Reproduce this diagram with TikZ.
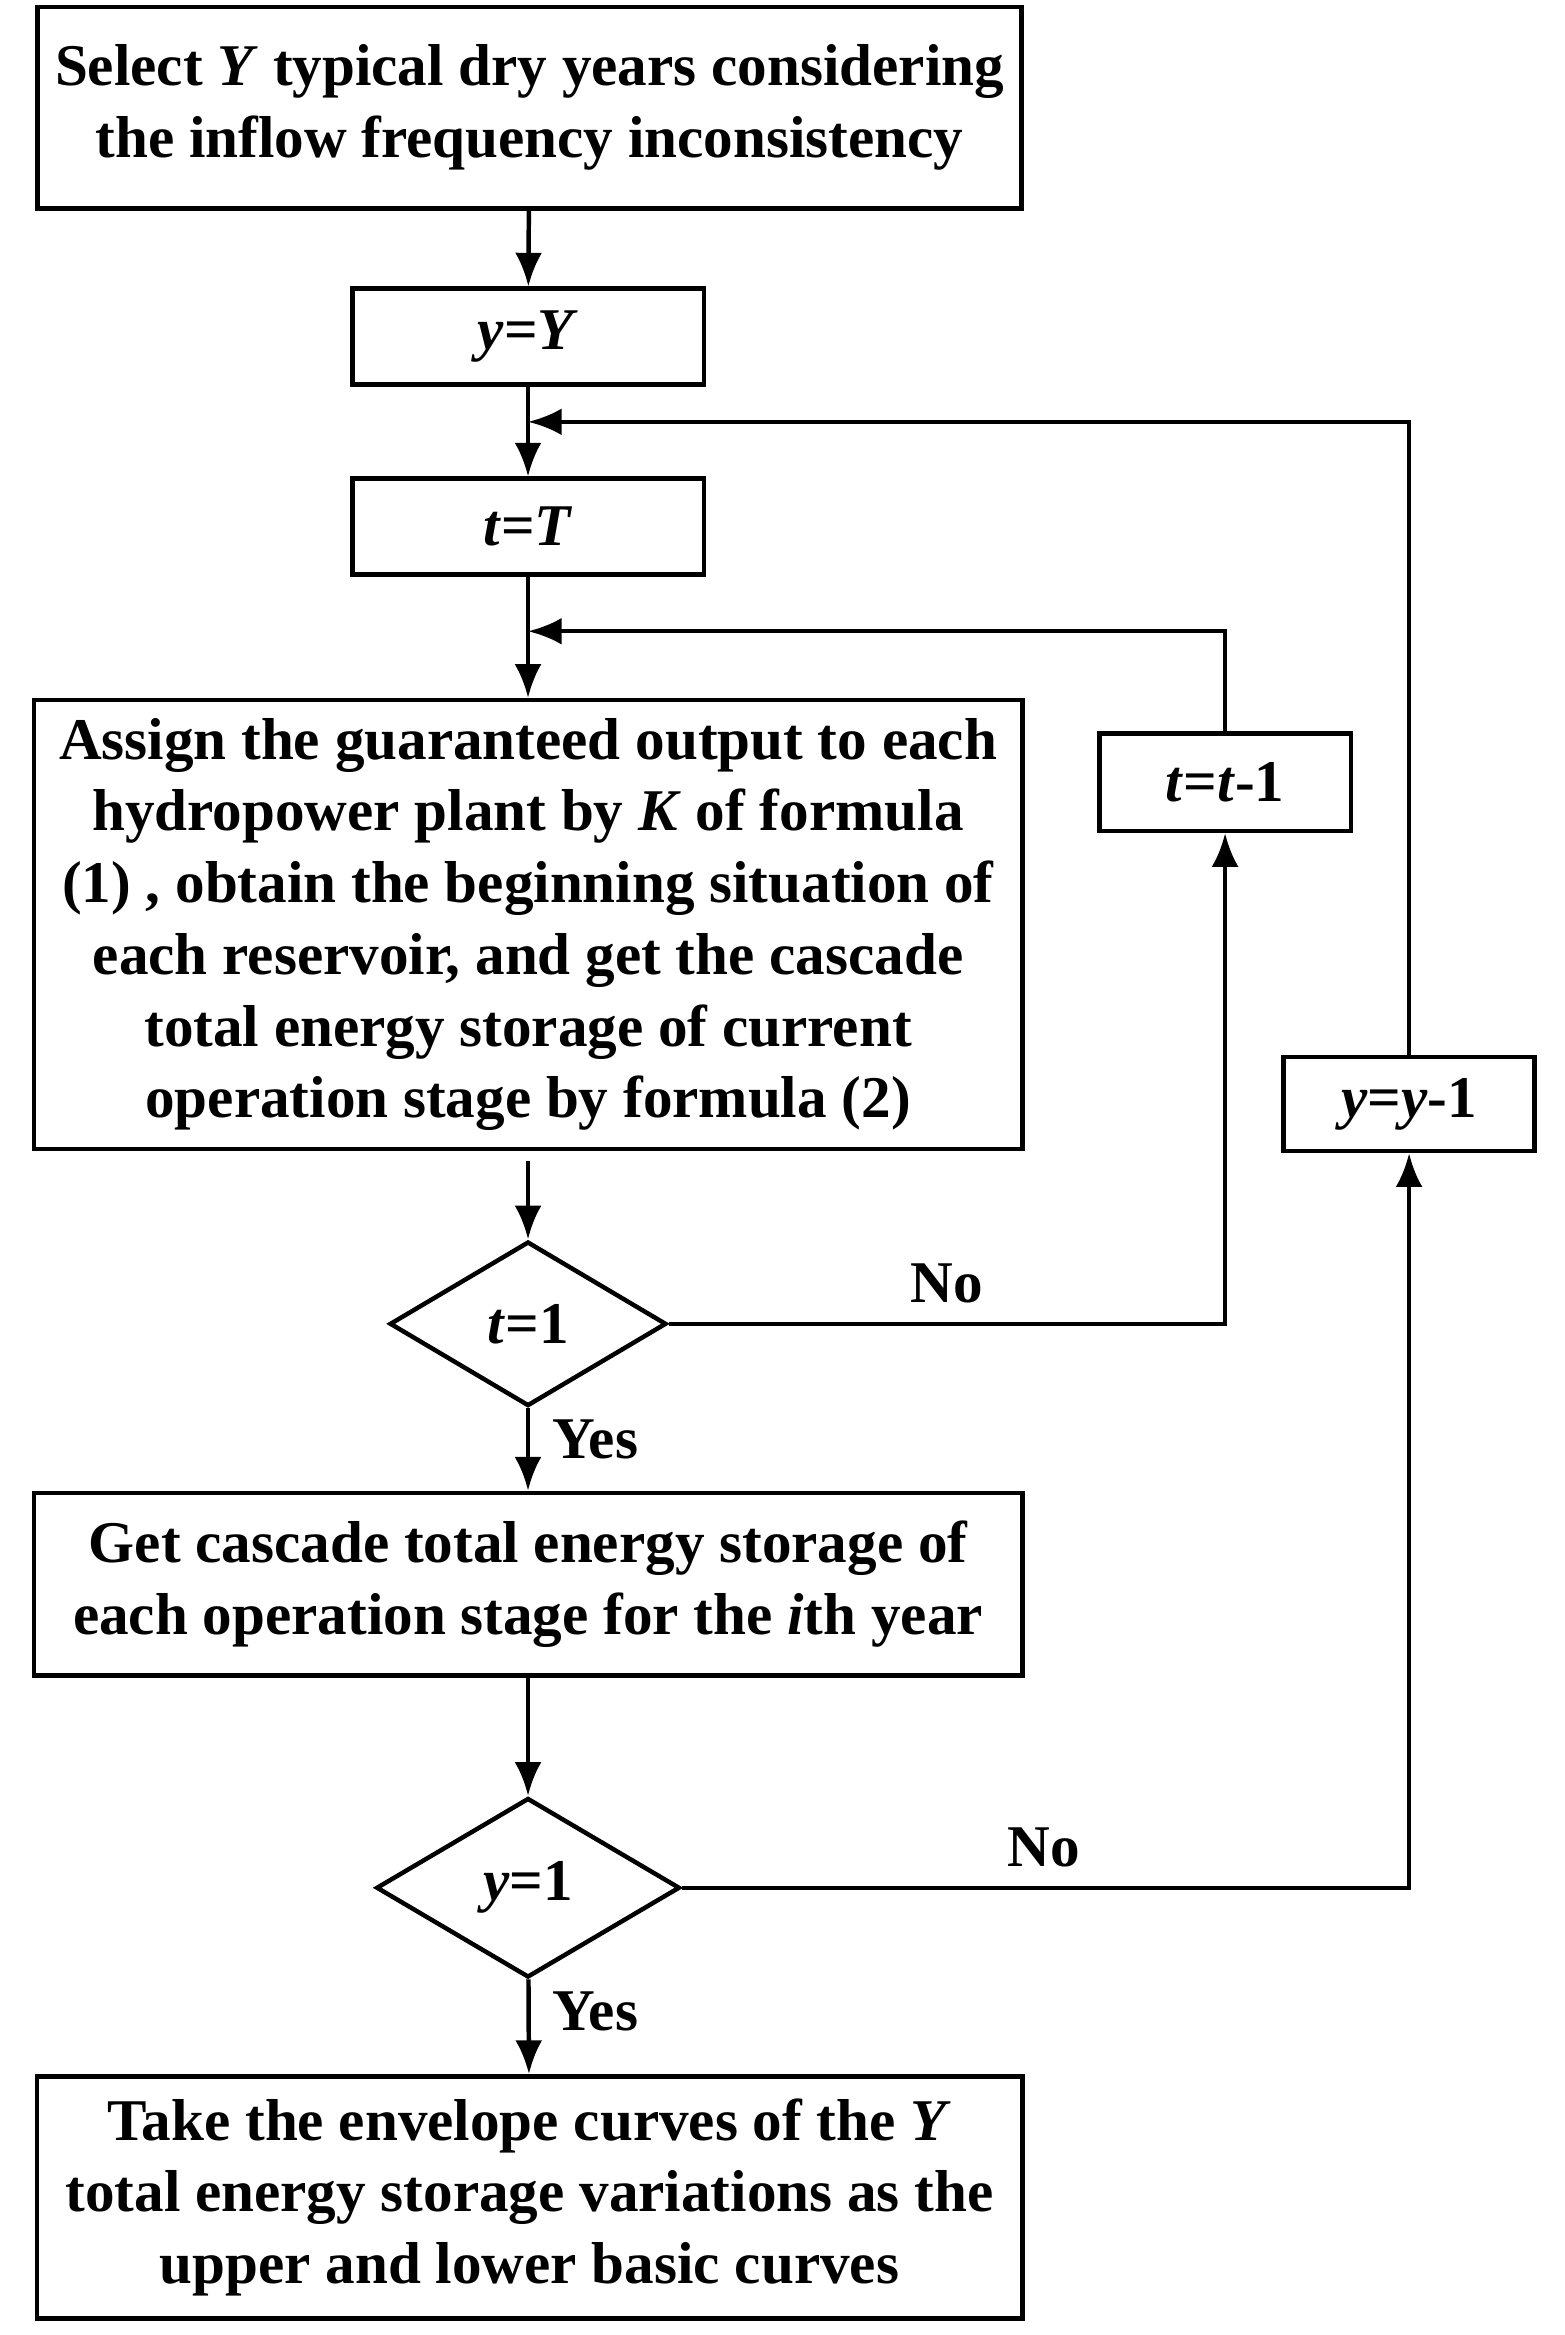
\documentclass[tikz,border=0pt]{standalone}
\usepackage{fontspec}
\setmainfont{Liberation Serif}
\usetikzlibrary{shapes.geometric,arrows.meta}
\begin{document}
\begin{tikzpicture}[x=0.02cm,y=-0.02cm]
	\tikzset{
	box/.style={draw,line width=1.7pt,align=center,inner sep=0pt},
	dec/.style={diamond,draw,line width=1.7pt,inner sep=0pt,minimum width=3.7cm,minimum height=2.2cm},
	arrow/.style={-{Latex[length=0.45cm,width=0.36cm]},line width=1.7pt},
	line/.style={line width=1.7pt}}
	\useasboundingbox (0,0) rectangle (1046,1561);
	\bfseries\fontsize{22.5}{27.3}\selectfont

	%main column
	\node[box,minimum width=13.16cm,minimum height=2.7cm] (select) at (354,72) {Select \textit{Y} typical dry years considering\\the inflow frequency inconsistency};
	\node[box,minimum width=4.7cm,minimum height=1.28cm] (yY) at (353,225) {\textit{y}=\textit{Y}};
	\node[box,minimum width=4.7cm,minimum height=1.28cm] (tT) at (353,352) {\textit{t}=\textit{T}};
	\node[box,minimum width=13.22cm,minimum height=6cm] (assign) at (353,618) {Assign the guaranteed output to each\\hydropower plant by \textit{K} of formula\\(1) , obtain the beginning situation of\\each reservoir, and get the cascade\\total energy storage of current\\operation stage by formula (2)};
	\node[dec] (t1) at (353,885) {\textit{t}=1};
	\node[box,minimum width=13.22cm,minimum height=2.44cm] (get) at (353,1059) {Get cascade total energy storage of\\each operation stage for the \textit{i}th year};
	\node[dec,minimum width=4.06cm,minimum height=2.4cm] (y1) at (353,1262) {\textit{y}=1};
	\node[box,minimum width=13.18cm,minimum height=3.24cm] (take) at (354,1469) {Take the envelope curves of the \textit{Y}\\total energy storage variations as the\\upper and lower basic curves};

	%loops
	\node[box,minimum width=3.36cm,minimum height=1.3cm] (tdec) at (819,523) {\textit{t}=\textit{t}-1};
	\node[box,minimum width=3.36cm,minimum height=1.26cm] (ydec) at (942,738) {\textit{y}=\textit{y}-1};
	\coordinate (jt) at (353,422);
	\coordinate (jy) at (353,282);

	\draw[arrow] (select) -- (yY);
	\draw[line] (yY) -- (jy);
	\draw[arrow] (jy) -- (tT);
	\draw[line] (tT) -- (jt);
	\draw[arrow] (jt) -- (assign);
	\draw[arrow] ([yshift=-0.14cm]assign.south) -- (t1);
	\draw[arrow] (t1) -- (get);
	\draw[arrow] (get) -- (y1);
	\draw[arrow] (y1) -- (take);

	\draw[arrow] (t1.east) -| (tdec.south);
	\draw[arrow] (tdec.north) |- (jt);
	\draw[arrow] (y1.east) -| (ydec.south);
	\draw[arrow] (ydec.north) |- (jy);

	\node (no1) at (633,858) {No};
	\node (no2) at (698,1235) {No};
	\node (yes1) at (398,962) {Yes};
	\node (yes2) at (398,1345) {Yes};
\end{tikzpicture}
\end{document}
